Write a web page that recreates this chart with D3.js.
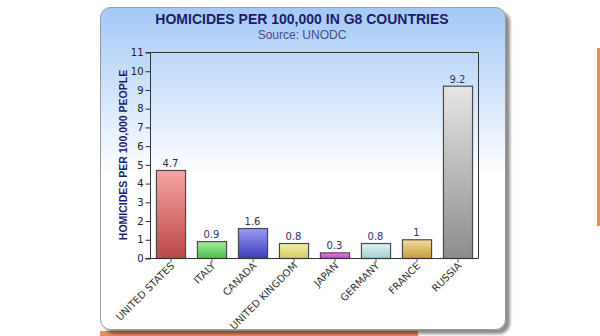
<!DOCTYPE html>
<html>
<head>
<meta charset="utf-8">
<script src="https://cdn.jsdelivr.net/npm/d3@7"></script>
<style>
  html, body { margin: 0; padding: 0; background: #fff; }
  svg { display: block; font-family: "DejaVu Sans", Verdana, sans-serif; }
</style>
</head>
<body>
<svg id="chart" width="600" height="336"></svg>
<script>
const categories = ["UNITED STATES", "ITALY", "CANADA", "UNITED KINGDOM", "JAPAN", "GERMANY", "FRANCE", "RUSSIA"];
const values = [4.7, 0.9, 1.6, 0.8, 0.3, 0.8, 1, 9.2];
const valueLabels = ["4.7", "0.9", "1.6", "0.8", "0.3", "0.8", "1", "9.2"];
const yTicks = [0, 1, 2, 3, 4, 5, 6, 7, 8, 9, 10, 11];
const barTop = ["#f6a4a4", "#a6ee98", "#9a9af4", "#f4f2a6", "#f27ef2", "#e0f4f4", "#f4dc98", "#e6e6e6"];
const barBottom = ["#bc4646", "#4cbc4c", "#3c3cb8", "#d2c868", "#c040c0", "#a6cccc", "#c49c3c", "#8c8c8c"];
const titleText = "HOMICIDES PER 100,000 IN G8 COUNTRIES";
const subtitleText = "Source: UNODC";
const yTitle = "HOMICIDES PER 100,000 PEOPLE";

const svg = d3.select("#chart");
const defs = svg.append("defs");

// page decorations around the panel
svg.append("rect").attr("x", 100).attr("y", 331).attr("width", 318).attr("height", 5).attr("fill", "#f08a5d");
svg.append("rect").attr("x", 597).attr("y", 48).attr("width", 3).attr("height", 178).attr("fill", "#f08a5d");

// panel background
const bg = defs.append("linearGradient").attr("id", "panelBg").attr("x1", 0).attr("y1", 0).attr("x2", 0).attr("y2", 1);
bg.append("stop").attr("offset", "0%").attr("stop-color", "#a4c8f6");
bg.append("stop").attr("offset", "52%").attr("stop-color", "#ffffff");
bg.append("stop").attr("offset", "100%").attr("stop-color", "#ffffff");

const shadow = defs.append("filter").attr("id", "shadow").attr("x", "-5%").attr("y", "-5%").attr("width", "115%").attr("height", "115%");
shadow.append("feGaussianBlur").attr("in", "SourceAlpha").attr("stdDeviation", 1.5).attr("result", "b");
shadow.append("feOffset").attr("in", "b").attr("dx", 4).attr("dy", 4).attr("result", "o");
shadow.append("feComponentTransfer").attr("in", "o").attr("result", "s")
  .append("feFuncA").attr("type", "linear").attr("slope", 0.45);
const merge = shadow.append("feMerge");
merge.append("feMergeNode").attr("in", "s");
merge.append("feMergeNode").attr("in", "SourceGraphic");

svg.append("rect")
  .attr("x", 100.5).attr("y", 7.5).attr("width", 405).attr("height", 322)
  .attr("rx", 10).attr("ry", 10)
  .attr("fill", "url(#panelBg)")
  .attr("stroke", "#9a9a9a").attr("stroke-width", 1)
  .attr("filter", "url(#shadow)");

// titles
svg.append("text").attr("x", 302).attr("y", 24).attr("text-anchor", "middle")
  .attr("font-size", 14).attr("font-weight", "bold").attr("fill", "#1c1c6c")
  .attr("font-family", "'Liberation Sans', Arial, sans-serif")
  .text(titleText);
svg.append("text").attr("x", 302).attr("y", 39).attr("text-anchor", "middle")
  .attr("font-size", 12).attr("fill", "#4a4a8c")
  .attr("font-family", "'Liberation Sans', Arial, sans-serif")
  .text(subtitleText);

// plot area
const plotLeft = 150, plotRight = 478, plotTop = 52, plotBottom = 258;
const x = d3.scaleBand().domain(categories).range([plotLeft, plotRight]).paddingInner(0.29).paddingOuter(0.145);
const y = d3.scaleLinear().domain([0, 11]).range([plotBottom, plotTop]);

// bar gradients
categories.forEach((c, i) => {
  const g = defs.append("linearGradient").attr("id", "bar" + i).attr("x1", 0).attr("y1", 0).attr("x2", 0).attr("y2", 1);
  g.append("stop").attr("offset", "0%").attr("stop-color", barTop[i]);
  g.append("stop").attr("offset", "100%").attr("stop-color", barBottom[i]);
});

// frame (top and right)
svg.append("path")
  .attr("d", `M${plotLeft},${plotTop}H${plotRight}V${plotBottom}`)
  .attr("fill", "none").attr("stroke", "#333").attr("stroke-width", 1)
  .attr("transform", "translate(0.5,0.5)");

svg.append("g").selectAll("rect").data(values).join("rect")
  .attr("x", (d, i) => x(categories[i]) + 0.5)
  .attr("y", d => y(d) + 0.5)
  .attr("width", x.bandwidth())
  .attr("height", d => plotBottom - y(d))
  .attr("fill", (d, i) => `url(#bar${i})`)
  .attr("stroke", "#4a4a4a").attr("stroke-width", 1.2);

svg.append("g").selectAll("text").data(values).join("text")
  .attr("x", (d, i) => x(categories[i]) + x.bandwidth() / 2)
  .attr("y", d => y(d) - 3)
  .attr("text-anchor", "middle")
  .attr("font-size", 10).attr("fill", "#33335a")
  .text((d, i) => valueLabels[i]);

// y axis
const yAxis = svg.append("g").attr("transform", `translate(${plotLeft + 0.5},0.5)`)
  .call(d3.axisLeft(y).tickValues(yTicks).tickSize(5).tickPadding(2).tickFormat(d3.format("d")));
yAxis.select(".domain").attr("stroke", "#333").attr("d", `M-5,${plotTop}H0V${plotBottom}H-5`);
yAxis.selectAll(".tick line").attr("stroke", "#333");
yAxis.selectAll(".tick text").attr("font-size", 10).attr("fill", "#222")
  .attr("font-family", "'DejaVu Sans', Verdana, sans-serif");

// x axis
const xAxis = svg.append("g").attr("transform", `translate(0.5,${plotBottom + 0.5})`)
  .call(d3.axisBottom(x).tickSize(4).tickSizeOuter(0));
xAxis.select(".domain").attr("stroke", "#333").attr("d", `M${plotLeft - 5},0H${plotRight}`);
xAxis.selectAll(".tick line").attr("stroke", "#555");
xAxis.selectAll(".tick text")
  .attr("font-size", 10).attr("fill", "#333")
  .attr("font-family", "'DejaVu Sans', Verdana, sans-serif")
  .attr("text-anchor", "end")
  .attr("dy", null).attr("y", 0)
  .attr("transform", "translate(4,8) rotate(-45)");

// y axis title
svg.append("text")
  .attr("transform", `translate(127,${(plotTop + plotBottom) / 2}) rotate(-90)`)
  .attr("text-anchor", "middle")
  .attr("font-size", 10.5).attr("font-weight", "bold").attr("fill", "#1c1c6c")
  .attr("font-family", "'Liberation Sans', Arial, sans-serif")
  .text(yTitle);
</script>
</body>
</html>
